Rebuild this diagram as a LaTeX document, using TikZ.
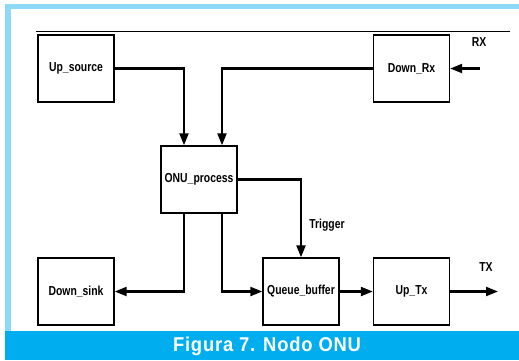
\documentclass[tikz,border=0pt]{standalone}
\usepackage{fontspec}
\usepackage{tikz}
\usetikzlibrary{arrows.meta}
\usetikzlibrary{positioning}
\usepackage{xcolor}
\newfontfamily\narrowsf[FakeStretch=0.8]{Liberation Sans}
\newfontfamily\capsf[FakeStretch=0.92,LetterSpace=4]{Liberation Sans}
\definecolor{framelight}{HTML}{8ED8F8}
\definecolor{captionblue}{HTML}{00AEEF}
\tikzset{
  block/.style={draw, line width=1.4pt, minimum width=76pt, minimum height=67pt,
    inner sep=0pt, font=\narrowsf\bfseries\fontsize{13}{14}\selectfont},
  link/.style={line width=2.2pt, -{Triangle[length=12pt,width=9pt]}},
  tag/.style={font=\narrowsf\bfseries\fontsize{13}{14}\selectfont}
}

\begin{document}
\begin{tikzpicture}[x=1pt, y=-1pt]
  \useasboundingbox (0,0) rectangle (519,360);
  % frame and caption
  \fill[framelight] (5,4) rectangle (519,9);
  \fill[framelight] (5,4) rectangle (11,331);
  \fill[captionblue] (5,331) rectangle (519,360);
  \node[text=white, font=\capsf\bfseries\fontsize{20}{22}\selectfont] (caption) at (267,346) {Figura 7. Nodo ONU};
  \draw[line width=.8pt] (36,31)--(510,31);

  % blocks
  \node[block] (upsrc) at (76,68.5) {Up\_source};
  \node[block] (downrx) at (411.5,68.5) {Down\_Rx};
  \node[block] (onu) at (199,179.5) {ONU\_process};
  \node[block] (sink) at (76,291.5) {Down\_sink};
  \node[block] (queue) at (301,291.5) {Queue\_buffer};
  \node[block] (uptx) at (411.5,291.5) {Up\_Tx};

  \coordinate (rxin) at (480,68.5);
  \coordinate (txout) at (498,291.5);
  \node[tag] (rx) at (479,42) {RX};
  \node[tag] (tx) at (486,267) {TX};
  \node[tag] (trig) at (327,225) {Trigger};

  % links
  \draw[link] (upsrc.east) -| ([xshift=-15pt]onu.north);
  \draw[link] (downrx.west) -| ([xshift=23pt]onu.north);
  \draw[link] (rxin) -- (downrx.east);
  \draw[link] (onu.east) -| (queue.north);
  \draw[link] ([xshift=-15pt]onu.south) |- (sink.east);
  \draw[link] ([xshift=23pt]onu.south) |- (queue.west);
  \draw[link] (queue.east) -- (uptx.west);
  \draw[link] (uptx.east) -- (txout);
\end{tikzpicture}
\end{document}
